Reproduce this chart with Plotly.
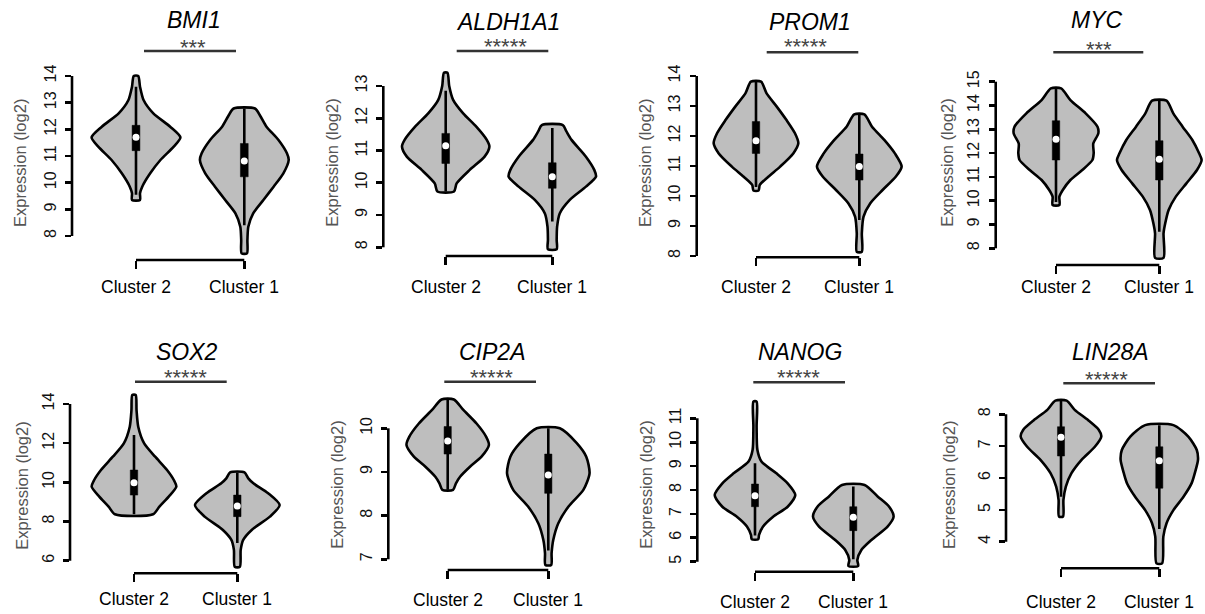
import plotly.graph_objects as go

# ---------------- data ----------------
GENES = ["BMI1", "ALDH1A1", "PROM1", "MYC", "SOX2", "CIP2A", "NANOG", "LIN28A"]
STARS = ["***", "*****", "*****", "***", "*****", "*****", "*****", "*****"]
GROUPS = ["Cluster 2", "Cluster 1"]
YTICKS = [
    [8, 9, 10, 11, 12, 13, 14],
    [8, 9, 10, 11, 12, 13],
    [8, 9, 10, 11, 12, 13, 14],
    [8, 9, 10, 11, 12, 13, 14, 15],
    [6, 8, 10, 12, 14],
    [7, 8, 9, 10],
    [5, 6, 7, 8, 9, 10, 11],
    [4, 5, 6, 7, 8],
]

# violin outlines: expression levels (top -> bottom) and relative density width
C2_Y = [
    [14.0, 13.6, 13.1, 12.6, 12.1, 11.7, 11.35, 10.85, 10.35, 9.85, 9.6, 9.35],
    [13.41, 13.0, 12.57, 12.15, 11.74, 11.33, 11.12, 10.81, 10.4, 9.98, 9.73],
    [13.81, 13.42, 12.98, 12.53, 12.09, 11.76, 11.42, 10.98, 10.64, 10.37, 10.18],
    [14.72, 14.23, 13.67, 13.11, 12.83, 12.4, 12.0, 11.71, 11.29, 10.87, 10.45, 10.17, 9.82],
    [14.46, 13.69, 12.84, 11.99, 11.31, 10.63, 10.12, 9.78, 9.27, 8.76, 8.37],
    [10.66, 10.42, 10.11, 9.81, 9.62, 9.35, 9.12, 8.89, 8.74, 8.59],
    [11.7, 10.65, 9.67, 9.19, 8.7, 8.28, 7.79, 7.3, 6.88, 6.47, 6.12, 5.94],
    [8.43, 8.14, 7.82, 7.51, 7.3, 6.98, 6.57, 6.15, 5.73, 5.31, 4.79],
]
C2_W = [
    [0.05, 0.09, 0.17, 0.39, 0.77, 1.0, 0.85, 0.55, 0.32, 0.14, 0.09, 0.09],
    [0.04, 0.08, 0.17, 0.4, 0.7, 0.94, 1.0, 0.89, 0.55, 0.25, 0.19],
    [0.12, 0.25, 0.49, 0.72, 0.92, 1.0, 0.88, 0.57, 0.29, 0.09, 0.06],
    [0.12, 0.34, 0.7, 0.98, 1.0, 0.88, 0.89, 0.86, 0.62, 0.34, 0.16, 0.08, 0.08],
    [0.04, 0.06, 0.1, 0.24, 0.5, 0.78, 0.94, 1.0, 0.82, 0.6, 0.45],
    [0.15, 0.38, 0.7, 0.93, 1.0, 0.82, 0.54, 0.3, 0.2, 0.13],
    [0.04, 0.04, 0.06, 0.16, 0.53, 0.81, 1.0, 0.81, 0.45, 0.2, 0.1, 0.08],
    [0.14, 0.34, 0.67, 0.94, 1.0, 0.84, 0.51, 0.26, 0.12, 0.06, 0.05],
]
C1_Y = [
    [12.78, 12.5, 12.1, 11.6, 11.1, 10.85, 10.35, 9.85, 9.35, 8.85, 8.35, 7.85, 7.35],
    [11.79, 11.6, 11.33, 10.81, 10.4, 10.19, 9.88, 9.47, 9.05, 8.64, 8.23, 7.94],
    [12.72, 12.31, 11.87, 11.42, 10.98, 10.64, 10.2, 9.76, 9.31, 8.76, 8.14],
    [14.2, 13.67, 13.11, 12.55, 11.99, 11.71, 11.29, 10.73, 10.17, 9.61, 9.05, 8.63, 7.6],
    [10.51, 10.2, 9.95, 9.44, 8.84, 8.25, 7.57, 7.06, 6.55, 5.69],
    [10.0, 9.66, 9.35, 8.97, 8.59, 8.21, 7.82, 7.44, 7.14, 6.87],
    [8.21, 7.72, 7.3, 6.88, 6.47, 5.91, 5.49, 5.07, 4.82],
    [7.66, 7.3, 6.88, 6.57, 6.15, 5.83, 5.41, 4.99, 4.58, 4.16, 3.32],
]
C1_W = [
    [0.24, 0.36, 0.5, 0.77, 0.96, 1.0, 0.88, 0.66, 0.43, 0.2, 0.09, 0.07, 0.06],
    [0.24, 0.32, 0.44, 0.77, 0.96, 1.0, 0.77, 0.4, 0.17, 0.11, 0.1, 0.1],
    [0.12, 0.3, 0.59, 0.84, 1.0, 0.86, 0.55, 0.26, 0.1, 0.06, 0.06],
    [0.17, 0.33, 0.55, 0.78, 0.94, 1.0, 0.89, 0.64, 0.39, 0.22, 0.14, 0.1, 0.1],
    [0.17, 0.26, 0.38, 0.73, 1.0, 0.77, 0.34, 0.14, 0.08, 0.06],
    [0.28, 0.69, 0.92, 1.0, 0.85, 0.49, 0.24, 0.12, 0.08, 0.07],
    [0.28, 0.61, 0.89, 1.0, 0.85, 0.45, 0.2, 0.1, 0.12],
    [0.35, 0.72, 0.93, 0.96, 0.88, 0.8, 0.6, 0.35, 0.18, 0.1, 0.07],
]
# box statistics: [whisker low, q1, median, q3, whisker high]
C2_BOX = [
    [9.55, 11.2, 11.7, 12.15, 13.6],
    [9.73, 10.6, 11.15, 11.53, 12.85],
    [10.3, 11.42, 11.84, 12.48, 13.8],
    [9.95, 11.71, 12.58, 13.36, 14.72],
    [8.37, 9.35, 9.98, 10.63, 12.42],
    [8.59, 9.41, 9.71, 10.04, 10.66],
    [6.1, 7.3, 7.76, 8.25, 9.12],
    [5.41, 6.69, 7.28, 7.61, 8.43],
]
C1_BOX = [
    [8.4, 10.22, 10.81, 11.47, 12.78],
    [8.8, 9.83, 10.19, 10.62, 11.7],
    [9.2, 10.53, 10.98, 11.4, 12.72],
    [8.7, 10.87, 11.74, 12.52, 14.2],
    [6.9, 8.25, 8.79, 9.35, 10.5],
    [7.2, 8.51, 8.93, 9.41, 10.0],
    [5.1, 6.3, 6.86, 7.3, 8.15],
    [4.4, 5.68, 6.54, 6.98, 7.66],
]

# ---------------- layout geometry (pixels) ----------------
W, H = 1205, 614
# axis_x, px of x=1, px of x=2, top tick px, bottom tick px, bracket px, domain top px
GEOM = [
    (72.0, 136.0, 244.3, 76.0, 236.0, 260.0, 60),
    (383.3, 445.7, 552.3, 86.0, 247.3, 256.0, 60),
    (696.7, 756.0, 859.3, 76.0, 256.0, 257.3, 60),
    (995.7, 1056.0, 1159.3, 81.7, 248.3, 265.0, 60),
    (70.0, 134.0, 237.3, 404.0, 560.7, 573.3, 388),
    (388.3, 447.7, 548.3, 428.3, 559.3, 570.0, 388),
    (697.3, 755.0, 853.3, 418.3, 561.7, 571.7, 388),
    (1006.0, 1061.0, 1159.3, 414.3, 541.7, 568.3, 388),
]
# title (x,y), stars (x,y), significance line x0,x1,y, axis-title (x,y), group label y
DECOR = [
    ((194, 20), (193, 43), (144, 236, 51), (20, 163), 287),
    ((508, 21.7), (505, 42.7), (456.7, 548.3, 51), (331.7, 163), 287),
    ((810, 21.7), (805, 42.7), (766.7, 858.3, 52.3), (645, 163), 287),
    ((1096.7, 20), (1099, 45), (1053.3, 1143.3, 52.3), (946.7, 163), 287),
    ((186.7, 351.7), (185, 373.3), (135, 226.7, 381.7), (21.7, 486), 599.3),
    ((491.7, 351.7), (491, 373.3), (444.3, 536, 381.7), (336.7, 485), 600),
    ((800, 351.7), (798.3, 373.3), (753.3, 845, 382.3), (645.7, 485), 601.7),
    ((1110, 351.7), (1106.7, 375), (1063.3, 1155, 383.3), (949, 485), 601.7),
]

HALF = 0.41      # max half width of a violin in x units
BOXH = 0.036     # half width of the IQR box
LW = 2.6
FONT = "Liberation Sans, Arial, Helvetica, sans-serif"
FILL = "#BEBEBE"


def px_x(p):
    return p / W


def px_y(p):
    return 1 - p / H


fig = go.Figure()
layout = dict(
    width=W, height=H, margin=dict(l=0, r=0, t=0, b=0), autosize=False,
    paper_bgcolor="white", plot_bgcolor="white", showlegend=False,
    font=dict(family=FONT, color="black"),
)
shapes, annotations = [], []


def violin(xref, yref, center, ys, ws):
    xs_r = [center + HALF * w for w in ws]
    xs_l = [center - HALF * w for w in ws]
    xs = xs_r + xs_l[::-1] + [xs_r[0]]
    yy = list(ys) + list(ys[::-1]) + [ys[0]]
    fig.add_trace(go.Scatter(
        x=xs, y=yy, xaxis=xref, yaxis=yref, mode="lines",
        line=dict(color="black", width=LW, shape="spline", smoothing=0.7),
        fill="toself", fillcolor=FILL, hoverinfo="skip"))


def boxplot(xref, yref, center, stats):
    lo, q1, med, q3, hi = stats
    fig.add_trace(go.Scatter(
        x=[center, center], y=[lo, hi], xaxis=xref, yaxis=yref, mode="lines",
        line=dict(color="black", width=LW), hoverinfo="skip"))
    fig.add_trace(go.Scatter(
        x=[center - BOXH, center + BOXH, center + BOXH, center - BOXH, center - BOXH],
        y=[q1, q1, q3, q3, q1], xaxis=xref, yaxis=yref, mode="lines",
        line=dict(color="black", width=0.5), fill="toself", fillcolor="black",
        hoverinfo="skip"))
    fig.add_trace(go.Scatter(
        x=[center], y=[med], xaxis=xref, yaxis=yref, mode="markers",
        marker=dict(color="white", size=7, line=dict(width=0)), hoverinfo="skip"))


for i, gene in enumerate(GENES):
    k = i + 1
    ax, p1, p2, tt_px, tb_px, br_px, dt_px = GEOM[i]
    ticks = YTICKS[i]
    u = p2 - p1
    x_left = 1 - (p1 - ax) / u
    x_right = min(2.6, 1 + (W - 1 - p1) / u)
    right_px = p1 + (x_right - 1) * u
    s = (tb_px - tt_px) / (ticks[-1] - ticks[0])
    y_bot = ticks[0] - (br_px - tb_px) / s
    y_top = ticks[-1] + (tt_px - dt_px) / s

    xn = "x" if k == 1 else f"x{k}"
    yn = "y" if k == 1 else f"y{k}"
    layout["xaxis" if k == 1 else f"xaxis{k}"] = dict(
        domain=[px_x(ax), min(1.0, px_x(right_px))], range=[x_left, x_right], anchor=yn,
        showgrid=False, zeroline=False, showline=False, tickvals=[1, 2],
        ticktext=["", ""], ticks="outside", ticklen=8, tickwidth=LW,
        tickcolor="black", fixedrange=True)
    layout["yaxis" if k == 1 else f"yaxis{k}"] = dict(
        domain=[px_y(br_px), px_y(dt_px)], range=[y_bot, y_top], anchor=xn,
        showgrid=False, zeroline=False, showline=False, tickvals=ticks,
        ticktext=[str(t) for t in ticks], ticks="outside", ticklen=6,
        tickwidth=LW, tickcolor="black", tickangle=-90,
        tickfont=dict(size=16, color="#111111", family=FONT),
        ticklabelstandoff=3, fixedrange=True)

    # R-style axis lines
    shapes.append(dict(type="line", xref=f"{xn} domain", yref=yn, x0=0, x1=0,
                       y0=ticks[0], y1=ticks[-1],
                       line=dict(color="black", width=LW)))
    shapes.append(dict(type="line", xref=xn, yref=f"{yn} domain", x0=1, x1=2,
                       y0=0, y1=0, line=dict(color="black", width=LW)))

    violin(xn, yn, 1, C2_Y[i], C2_W[i])
    violin(xn, yn, 2, C1_Y[i], C1_W[i])
    boxplot(xn, yn, 1, C2_BOX[i])
    boxplot(xn, yn, 2, C1_BOX[i])

    (tx, ty), (sx, sy), (lx0, lx1, ly), (atx, aty), gy = DECOR[i]
    annotations.append(dict(text=f"<i>{gene}</i>", x=px_x(tx), y=px_y(ty),
                            xref="paper", yref="paper", showarrow=False,
                            xanchor="center", yanchor="middle",
                            font=dict(size=23, color="black", family=FONT)))
    annotations.append(dict(text=STARS[i], x=px_x(sx), y=px_y(sy + 4),
                            xref="paper", yref="paper", showarrow=False,
                            xanchor="center", yanchor="middle",
                            font=dict(size=22, color="#444444", family=FONT)))
    shapes.append(dict(type="line", xref="paper", yref="paper",
                       x0=px_x(lx0), x1=px_x(lx1), y0=px_y(ly), y1=px_y(ly),
                       line=dict(color="#333333", width=LW)))
    annotations.append(dict(text="Expression (log2)", x=px_x(atx), y=px_y(aty),
                            xref="paper", yref="paper", showarrow=False,
                            textangle=-90, xanchor="center", yanchor="middle",
                            font=dict(size=16.5, color="#555555", family=FONT)))
    for gx_px, lab in zip((p1, p2), GROUPS):
        annotations.append(dict(text=lab, x=px_x(gx_px), y=px_y(gy),
                                xref="paper", yref="paper", showarrow=False,
                                xanchor="center", yanchor="middle",
                                font=dict(size=17.5, color="black", family=FONT)))

layout["shapes"] = shapes
layout["annotations"] = annotations
fig.update_layout(**layout)
fig.write_html(
    "out.html",
    config={"displayModeBar": False, "staticPlot": True},
    post_script="document.body.style.margin='0';document.body.style.padding='0';"
                "document.body.style.overflow='hidden';",
)
